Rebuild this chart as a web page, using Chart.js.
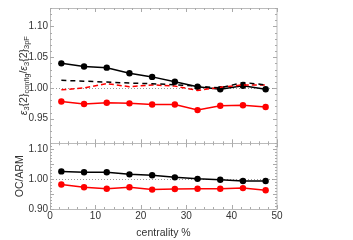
<!DOCTYPE html>
<html><head><meta charset="utf-8">
<script src="https://cdn.jsdelivr.net/npm/chart.js@4/dist/chart.umd.min.js"></script>
<style>html,body{margin:0;padding:0;background:#fff}#wrap{position:relative;width:353px;height:240px}</style>
</head><body><div id="wrap"><canvas id="c" width="353" height="240"></canvas></div>
<script>
const centrality = [2.5, 7.5, 12.5, 17.5, 22.5, 27.5, 32.5, 37.5, 42.5, 47.5];
const topBlackSolid  = [1.040, 1.035, 1.033, 1.024, 1.018, 1.010, 1.002, 0.998, 1.0035, 0.998];
const topRedSolid    = [0.978, 0.974, 0.976, 0.975, 0.973, 0.973, 0.964, 0.971, 0.972, 0.969];
const topBlackDashed = [1.0125, 1.011, 1.0095, 1.008, 1.007, 1.005, 1.003, 1.000, 1.009, 1.005];
const topRedDashed   = [0.997, 1.000, 1.007, 1.002, 1.005, 1.003, 0.996, 1.001, 1.005, 1.005];
const botBlack = [1.026, 1.023, 1.023, 1.016, 1.013, 1.006, 1.001, 0.998, 0.994, 0.994];
const botRed   = [0.982, 0.973, 0.968, 0.973, 0.965, 0.967, 0.968, 0.968, 0.970, 0.963];
const xTicks = [0, 10, 20, 30, 40, 50];
const yTopTicks = [0.95, 1.00, 1.05, 1.10];
const yBotTicks = [0.90, 0.95, 1.00, 1.05, 1.10];
const refValue = 1.0;

const pts = arr => arr.map((v, i) => ({x: centrality[i], y: v}));
const TXT = '#333';
const FONT = "'Liberation Sans', Arial, sans-serif";

function solid(data, color, yAxisID) {
  return {data: pts(data), borderColor: color, backgroundColor: color, borderWidth: 1.5,
    pointRadius: 3.2, pointHoverRadius: 3.2, pointBorderWidth: 0, yAxisID, tension: 0};
}
function dashed(data, color, yAxisID, dash) {
  return {data: pts(data), borderColor: color, backgroundColor: color, borderWidth: 1.5,
    borderDash: dash, pointRadius: 0, yAxisID, tension: 0};
}

const decor = {
  id: 'decor',
  beforeDatasetsDraw(chart) {
    const ctx = chart.ctx, xs = chart.scales.x;
    ctx.save();
    ctx.strokeStyle = '#999'; ctx.lineWidth = 1; ctx.setLineDash([1, 2]);
    for (const id of ['yTop', 'yBot']) {
      const y = Math.round(chart.scales[id].getPixelForValue(refValue)) + 0.5;
      ctx.beginPath(); ctx.moveTo(xs.left, y); ctx.lineTo(xs.right, y); ctx.stroke();
    }
    ctx.restore();
  },
  afterDraw(chart) {
    const ctx = chart.ctx, xs = chart.scales.x;
    ctx.save();
    const L = xs.left, R = xs.right;
    const panels = [[chart.scales.yTop, yTopTicks], [chart.scales.yBot, yBotTicks]];
    for (const [ys, majors] of panels) {
      const T = ys.top, B = ys.bottom;
      ctx.strokeStyle = '#bbb'; ctx.lineWidth = 1;
      ctx.strokeRect(Math.round(L) + 0.5, Math.round(T) + 0.5, Math.round(R - L) - 1 + 0.5, Math.round(B - T));
      ctx.strokeStyle = '#aaa';
      for (let v = xs.min; v <= xs.max + 1e-9; v += 2) {
        const len = xTicks.includes(Math.round(v)) ? 4 : 2;
        const x = Math.round(xs.getPixelForValue(v)) + 0.5;
        ctx.beginPath();
        ctx.moveTo(x, B); ctx.lineTo(x, B - len);
        ctx.moveTo(x, T); ctx.lineTo(x, T + len);
        ctx.stroke();
      }
      const lo = Math.ceil(ys.min * 100 - 1e-6), hi = Math.floor(ys.max * 100 + 1e-6);
      for (let k = lo; k <= hi; k++) {
        const v = k / 100;
        const len = majors.some(m => Math.abs(m - v) < 1e-6) ? 4 : 2;
        const y = Math.round(ys.getPixelForValue(v)) + 0.5;
        ctx.beginPath();
        ctx.moveTo(L, y); ctx.lineTo(L + len, y);
        ctx.moveTo(R, y); ctx.lineTo(R - len, y);
        ctx.stroke();
      }
    }
    const ys = chart.scales.yTop;
    const cy = (ys.top + ys.bottom) / 2;
    const main = 10.5, sub = 7.5;
    const parts = [
      {t: 'ε', f: `italic ${main}px ${FONT}`, s: 0},
      {t: '3', f: `${sub}px ${FONT}`, s: 2.5},
      {t: '{2}', f: `${main}px ${FONT}`, s: 0},
      {t: 'config', f: `${sub}px ${FONT}`, s: 2.5},
      {t: '/', f: `${main}px ${FONT}`, s: 0},
      {t: 'ε', f: `italic ${main}px ${FONT}`, s: 0},
      {t: '3', f: `${sub}px ${FONT}`, s: 2.5},
      {t: '{2}', f: `${main}px ${FONT}`, s: 0},
      {t: '3pF', f: `${sub}px ${FONT}`, s: 2.5}
    ];
    let total = 0;
    for (const p of parts) { ctx.font = p.f; p.w = ctx.measureText(p.t).width; total += p.w; }
    ctx.translate(24, cy);
    ctx.rotate(-Math.PI / 2);
    ctx.fillStyle = TXT; ctx.textBaseline = 'middle'; ctx.textAlign = 'left';
    let x = -total / 2;
    for (const p of parts) { ctx.font = p.f; ctx.fillText(p.t, x, p.s); x += p.w; }
    ctx.restore();
  }
};

const setTicks = arr => scale => { scale.ticks = arr.map(v => ({value: v})); };

new Chart(document.getElementById('c'), {
  type: 'line',
  data: {datasets: [
    dashed(topBlackDashed, '#000', 'yTop', [5, 4]),
    dashed(topRedDashed, '#ff0000', 'yTop', [5, 3]),
    solid(topBlackSolid, '#000', 'yTop'),
    solid(topRedSolid, '#ff0000', 'yTop'),
    solid(botBlack, '#000', 'yBot'),
    solid(botRed, '#ff0000', 'yBot')
  ]},
  options: {
    responsive: false, animation: false, devicePixelRatio: 1,
    layout: {padding: {left: 0, right: 76, top: 0, bottom: 0}},
    plugins: {legend: {display: false}, tooltip: {enabled: false}},
    scales: {
      x: {type: 'linear', min: 0, max: 50,
        afterBuildTicks: setTicks(xTicks),
        afterFit: s => { s.height = 31; },
        grid: {display: false, drawTicks: false}, border: {display: false},
        ticks: {color: TXT, font: {size: 10, family: FONT}, padding: 1, maxRotation: 0, autoSkip: false},
        title: {display: true, text: 'centrality %', color: TXT, font: {size: 10.5, family: FONT}, padding: {top: 0, bottom: 1}}
      },
      yBot: {type: 'linear', position: 'left', stack: 'p', stackWeight: 68.3, min: 0.90, max: 1.12,
        afterBuildTicks: setTicks(yBotTicks),
        afterFit: s => { s.width = 50; },
        grid: {display: false, drawTicks: false}, border: {display: false},
        ticks: {color: TXT, font: {size: 10, family: FONT}, padding: 2, callback: v => v.toFixed(2)},
        title: {display: true, text: 'OC/ARM', color: TXT, font: {size: 10.5, family: FONT}, padding: {top: 14, bottom: 0}}
      },
      yTop: {type: 'linear', position: 'left', stack: 'p', stackWeight: 140.7, min: 0.91, max: 1.13,
        afterBuildTicks: setTicks(yTopTicks),
        afterFit: s => { s.width = 50; },
        grid: {display: false, drawTicks: false}, border: {display: false},
        ticks: {color: TXT, font: {size: 10, family: FONT}, padding: 2, callback: v => v.toFixed(2)}
      }
    }
  },
  plugins: [decor]
});
</script></body></html>
